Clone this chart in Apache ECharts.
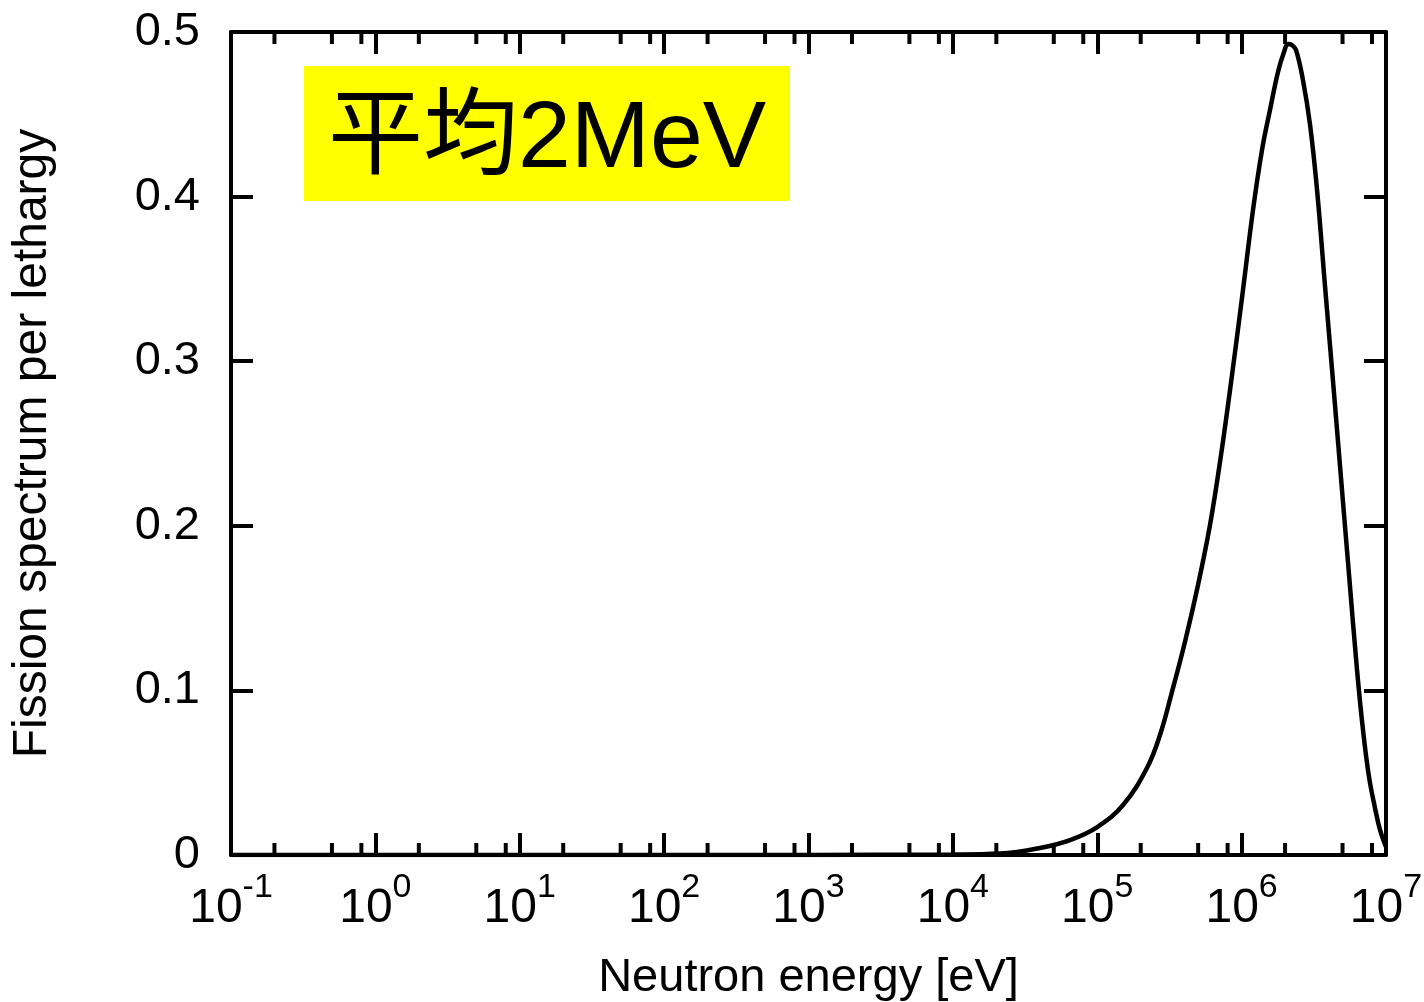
<!DOCTYPE html>
<html>
<head>
<meta charset="utf-8">
<script src="https://cdn.jsdelivr.net/npm/echarts@6/dist/echarts.min.js"></script>
<style>
html,body{margin:0;padding:0;background:#fff;}
#chart{width:1424px;height:1002px;}
</style>
</head>
<body>
<div id="chart"></div>
<script>
// Neutron energy [eV] sample points
const energyEV = [0.1, 1, 10, 100, 1000, 1e4, 2.12e4, 4.01e4, 6.48e4, 1.0e5, 1.51e5, 2.21e5, 2.72e5, 3.29e5,
  4.05e5, 4.99e5, 6.04e5, 7.2e5, 8.58e5, 1.022e6, 1.199e6, 1.384e6, 1.572e6, 1.786e6, 1.966e6, 2.096e6,
  2.23e6, 2.38e6, 2.66e6, 2.98e6, 3.33e6, 3.78e6, 4.30e6, 4.88e6, 5.54e6, 6.30e6, 6.93e6, 7.63e6,
  8.39e6, 9.09e6, 1e7];
// Fission spectrum per lethargy
const spectrum = [0, 0, 0, 0, 0.00005, 0.0003, 0.0009, 0.0043, 0.0091, 0.017, 0.0304, 0.0529, 0.0729, 0.099,
  0.1294, 0.164, 0.2005, 0.243, 0.2916, 0.3433, 0.3919, 0.4283, 0.4526, 0.4757, 0.4878, 0.4927,
  0.4921, 0.4891, 0.4708, 0.4435, 0.404, 0.3457, 0.2874, 0.229, 0.1707, 0.1124, 0.0759, 0.0474,
  0.0286, 0.0152, 0.0049];
// Major decade ticks (exponents) and minor tick mantissas
const decadeExponents = [-1, 0, 1, 2, 3, 4, 5, 6, 7];
const minorMantissas = [2, 5, 8];
const yTickLabels = ['0', '0.1', '0.2', '0.3', '0.4', '0.5'];
const annotationText = '平均2MeV';
const xTitle = 'Neutron energy [eV]';
const yTitle = 'Fission spectrum per lethargy';

const lineData = energyEV.map((e, i) => [e, spectrum[i]]);
const minorTickData = [];
decadeExponents.slice(0, -1).forEach(p => {
  minorMantissas.forEach(m => minorTickData.push([m * Math.pow(10, p), 0]));
});

const FONT = '"Liberation Sans", Arial, "Noto Sans CJK JP", sans-serif';
const chart = echarts.init(document.getElementById('chart'), null, {renderer: 'canvas'});

function expOf(v) { return Math.round(Math.log10(v)); }

const option = {
  animation: false,
  backgroundColor: '#fff',
  grid: {left: 231, right: 38, top: 32, bottom: 147, containLabel: false, outerBoundsMode: 'none'},
  xAxis: [{
    type: 'log', logBase: 10, min: 0.1, max: 1e7, splitNumber: 8, interval: 1,
    position: 'bottom',
    name: xTitle, nameLocation: 'middle', nameGap: 100,
    nameTextStyle: {fontFamily: FONT, fontSize: 47, color: '#000'},
    axisLine: {show: true, onZero: false, lineStyle: {color: '#000', width: 4}},
    axisTick: {show: true, inside: true, length: 22, lineStyle: {color: '#000', width: 4}},
    splitLine: {show: false},
    axisLabel: {
      show: true, margin: 16, color: '#000',
      formatter: function (v) { return '{b|10}{s|' + expOf(v) + '}'; },
      rich: {
        b: {fontFamily: FONT, fontSize: 48, color: '#000', lineHeight: 62, verticalAlign: 'bottom'},
        s: {fontFamily: FONT, fontSize: 34, color: '#000', lineHeight: 62, verticalAlign: 'top'}
      }
    }
  }, {
    type: 'log', logBase: 10, min: 0.1, max: 1e7, splitNumber: 8, interval: 1,
    position: 'top',
    axisLine: {show: true, onZero: false, lineStyle: {color: '#000', width: 4}},
    axisTick: {show: true, inside: true, length: 22, lineStyle: {color: '#000', width: 4}},
    axisLabel: {show: false}, splitLine: {show: false}
  }],
  yAxis: [{
    type: 'value', min: 0, max: 0.5, interval: 0.1, position: 'left',
    name: yTitle, nameLocation: 'middle', nameGap: 174, nameRotate: 90,
    nameTextStyle: {fontFamily: FONT, fontSize: 48, color: '#000'},
    axisLine: {show: true, onZero: false, lineStyle: {color: '#000', width: 4}},
    axisTick: {show: true, inside: true, length: 22, lineStyle: {color: '#000', width: 4}},
    splitLine: {show: false},
    axisLabel: {
      show: true, margin: 31, color: '#000', fontFamily: FONT, fontSize: 47,
      formatter: function (v) { return yTickLabels[Math.round(v * 10)]; }
    }
  }, {
    type: 'value', min: 0, max: 0.5, interval: 0.1, position: 'right',
    axisLine: {show: true, onZero: false, lineStyle: {color: '#000', width: 4}},
    axisTick: {show: true, inside: true, length: 22, lineStyle: {color: '#000', width: 4}},
    axisLabel: {show: false}, splitLine: {show: false}
  }],
  graphic: [{
    type: 'rect', left: 304, top: 66, z: 1,
    shape: {width: 486, height: 135},
    style: {fill: '#ffff00'}
  }, {
    type: 'text', z: 2, x: 547, y: 141,
    style: {
      text: annotationText, fill: '#000',
      font: '95px ' + FONT, align: 'center', verticalAlign: 'middle'
    }
  }],
  series: [{
    type: 'line', xAxisIndex: 0, yAxisIndex: 0,
    data: lineData, showSymbol: false, symbol: 'none',
    smooth: 0.4,
    lineStyle: {color: '#000', width: 4.5},
    z: 3
  }, {
    type: 'custom', xAxisIndex: 0, yAxisIndex: 0,
    data: minorTickData, encode: {x: 0, y: 1}, clip: false, silent: true, z: 4,
    renderItem: function (params, api) {
      const e = api.value(0);
      const b = api.coord([e, 0]);
      const t = api.coord([e, 0.5]);
      const st = {stroke: '#000', lineWidth: 4};
      return {
        type: 'group', children: [
          {type: 'line', shape: {x1: b[0], y1: b[1], x2: b[0], y2: b[1] - 12}, style: st},
          {type: 'line', shape: {x1: t[0], y1: t[1], x2: t[0], y2: t[1] + 12}, style: st}
        ]
      };
    }
  }]
};
chart.setOption(option);
</script>
</body>
</html>
